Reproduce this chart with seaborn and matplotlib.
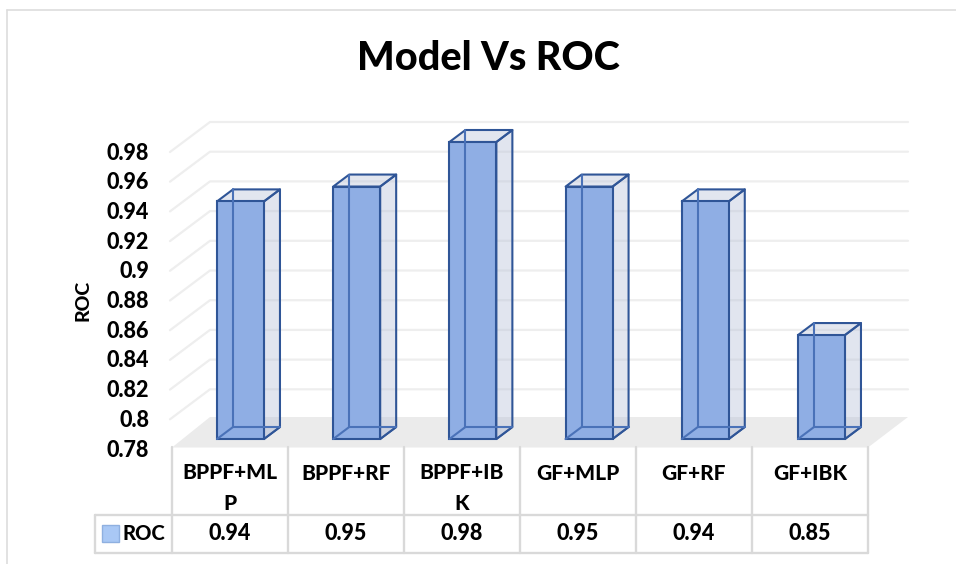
import matplotlib
matplotlib.use("Agg")
import matplotlib.pyplot as plt
import seaborn as sns
import pandas as pd
from matplotlib.lines import Line2D
from matplotlib.patches import Polygon, Rectangle
from matplotlib.transforms import Affine2D, ScaledTranslation

models = ["BPPF+MLP", "BPPF+RF", "BPPF+IBK", "GF+MLP", "GF+RF", "GF+IBK"]
wrapped_models = ["BPPF+ML\nP", "BPPF+RF", "BPPF+IB\nK", "GF+MLP", "GF+RF", "GF+IBK"]
roc = [0.94, 0.95, 0.98, 0.95, 0.94, 0.85]
y_ticks = [0.78, 0.80, 0.82, 0.84, 0.86, 0.88, 0.90, 0.92, 0.94, 0.96, 0.98]
table_x = [172, 288, 404, 520, 636, 752, 868]

W, H = 956, 564
BASE = 0.78
FRONT = "#8FAEE4"
EDGE = "#2F5597"
INNER = "#4A72B8"
SIDE = (0.72, 0.76, 0.85, 0.42)
GRID = "#EEEEEE"
TBL = "#D9D9D9"
FONT = "Lato"
WEIGHT = 900

sns.set_theme(style="white")
plt.rcParams["font.family"] = [FONT, "DejaVu Sans"]
plt.rcParams["font.weight"] = WEIGHT

fig = plt.figure(figsize=(W / 100, H / 100), dpi=100, facecolor="white")
ax_l, ax_r, ax_t, ax_b = 182.4, 879.6, 142, 439
ax = fig.add_axes([ax_l / W, 1 - ax_b / H, (ax_r - ax_l) / W, (ax_b - ax_t) / H])
ax.patch.set_alpha(0)

df = pd.DataFrame({"Model": models, "ROC": roc})
sns.barplot(data=df, x="Model", y="ROC", ax=ax, color=FRONT, saturation=1,
            width=0.404, edgecolor=EDGE, linewidth=1.5, zorder=6)
ax.set_xlim(-0.5, 5.5)
ax.set_ylim(BASE, 0.98)
sns.despine(ax=ax, left=True, bottom=True, top=True, right=True)
ax.grid(False)

# image-pixel coordinates -> display
px = Affine2D().scale(1, -1).translate(0, H)


def y_px(v):
    return H - ax.transData.transform((0, v))[1]


def x_px(v):
    return ax.transData.transform((v, BASE))[0]


bars = list(ax.containers[0])

# wall gridlines and floor
for v in y_ticks[1:]:
    y = y_px(v)
    ax.add_line(Line2D([170, 210, 908], [y + 10, y - 20, y - 20], color=GRID, lw=1.6,
                       transform=px, clip_on=False, zorder=1))
ax.add_patch(Polygon([(172, 447.5), (868, 447.5), (908, 417), (210, 417)], closed=True,
                     facecolor="#EBEBEB", edgecolor="none", transform=px,
                     clip_on=False, zorder=2))

# depth of every bar, built from the seaborn bar rectangles
DX, DY = 16, 12
for bar in bars:
    val = bar.get_y() + bar.get_height()
    bar.set_y(BASE)
    bar.set_height(val - BASE)
    bar.set_clip_on(False)
    x0 = x_px(bar.get_x())
    x1 = x_px(bar.get_x() + bar.get_width())
    yt, yb = y_px(val), y_px(BASE)
    side = [(x1, yt), (x1 + DX, yt - DY), (x1 + DX, yb - DY), (x1, yb)]
    top = [(x0, yt), (x0 + DX, yt - DY), (x1 + DX, yt - DY), (x1, yt)]
    floor = [(x0, yb), (x0 + DX, yb - DY), (x1 + DX, yb - DY), (x1, yb)]
    ax.add_patch(Polygon(side, closed=True, facecolor=SIDE, edgecolor=EDGE, lw=1.5,
                         joinstyle="round", transform=px, clip_on=False, zorder=5))
    ax.add_patch(Polygon(top, closed=True, facecolor=(0.72, 0.76, 0.85, 0.40), edgecolor=EDGE,
                         lw=1.5, joinstyle="round", transform=px, clip_on=False, zorder=5))
    ax.add_patch(Polygon(floor, closed=True, facecolor=(0.72, 0.76, 0.85, 0.30), edgecolor=EDGE,
                         lw=1.4, joinstyle="round", transform=px, clip_on=False, zorder=5))
    # back edges seen through the translucent front face
    ax.add_line(Line2D([x0 + DX, x0 + DX, x1 + DX], [yt - DY, yb - DY, yb - DY], color=INNER,
                       lw=1.5, transform=px, clip_on=False, zorder=7))
    ax.add_line(Line2D([x0, x0 + DX], [yb, yb - DY], color=INNER, lw=1.5,
                       transform=px, clip_on=False, zorder=7))

# axis text
ax.set_xlabel("")
ax.set_xticks(range(len(models)))
ax.set_xticklabels([])
ax.tick_params(axis="x", length=0)
ax.set_yticks(y_ticks)
ax.set_yticklabels([f"{v:g}" for v in y_ticks], fontsize=15.5, fontweight=WEIGHT, color="black")
ax.tick_params(axis="y", length=0, pad=24)
shift = ScaledTranslation(0, -6.5 / 72, fig.dpi_scale_trans)
for lab in ax.get_yticklabels():
    lab.set_transform(lab.get_transform() + shift)
ax.set_ylabel("ROC", fontsize=14, fontweight=WEIGHT, color="black")
ax.yaxis.set_label_coords((92 - ax_l) / (ax_r - ax_l), (ax_b - 300) / (ax_b - ax_t))


def ftext(x, y, s, **kw):
    kw.setdefault("ha", "center")
    kw.setdefault("va", "center")
    fig.text(x / W, 1 - y / H, s, color="black", fontweight=WEIGHT, **kw)


def fline(xs, ys, color=TBL, lw=1.7):
    fig.add_artist(Line2D(xs, ys, color=color, lw=lw, transform=px))


# outer chart border
fline([7, 956], [9.5, 9.5], color="#DDDDDD", lw=1.2)
fline([7, 7], [9.5, 564], color="#DDDDDD", lw=1.2)

ftext(488, 58, "Model Vs ROC", fontsize=28.5)

# data table
for xv in table_x:
    fline([xv, xv], [447, 553])
fline([95, table_x[-1]], [514.5, 514.5])
fline([95, table_x[-1]], [553, 553])
fline([95, 95], [514.5, 553])
for i, (name, v) in enumerate(zip(wrapped_models, roc)):
    xc = (table_x[i] + table_x[i + 1]) / 2
    ftext(xc, 473 if "\n" not in name else 488, name, fontsize=15, linespacing=1.8)
    ftext(xc, 534, f"{v:.2f}", fontsize=15.5)
fig.add_artist(Rectangle((102, 525), 17, 17, facecolor="#A9C8F5", edgecolor="#8FB0E0", lw=1,
                         transform=px))
ftext(123, 533, "ROC", fontsize=14.5, ha="left")

fig.savefig("out.png", dpi=100, facecolor="white")
